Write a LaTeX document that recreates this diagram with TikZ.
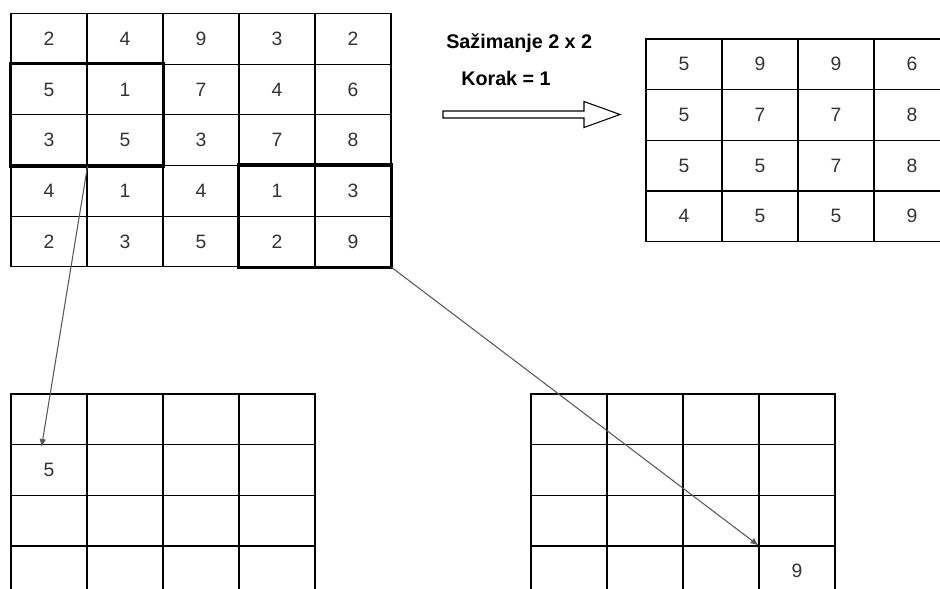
\documentclass[tikz,border=0pt]{standalone}
\usepackage{fontspec}
\setmainfont{Liberation Sans}
\usetikzlibrary{arrows.meta}

\tikzset{
  cell/.style={draw, line width=0.8pt, minimum width=57pt, minimum height=38pt, inner sep=0pt,
    font=\fontsize{14.5}{16}\selectfont, text=black!80},
  numtext/.style={inner sep=0pt, font=\fontsize{14.5}{16}\selectfont, text=black!80},
  title/.style={inner sep=0pt, font=\fontsize{14.8}{17}\selectfont\bfseries},
  boldbox/.style={line width=2.4pt},
  link/.style={-{Latex[length=6pt,width=5pt]}, draw=black!65, line width=0.8pt},
}

\begin{document}
\begin{tikzpicture}[x=0.75pt,y=0.75pt,yscale=-1,xscale=1]
\useasboundingbox (0,0) rectangle (940,589);
\clip (0,0) rectangle (940,589);

%Input matrix 5 x 5
\foreach \row [count=\rw from 0] in {{2,4,9,3,2},{5,1,7,4,6},{3,5,3,7,8},{4,1,4,1,3},{2,3,5,2,9}}
  \foreach \v [count=\col from 0] in \row
    \node[cell] (in-\rw-\col) at (49+76*\col, 38.8+50.67*\rw) {\v};

%Result matrix 4 x 4
\foreach \row [count=\rw from 0] in {{5,9,9,6},{5,7,7,8},{5,5,7,8},{4,5,5,9}}
  \foreach \v [count=\col from 0] in \row
    \node[cell] (out-\rw-\col) at (684+76*\col, 64.3+50.67*\rw) {\v};

%Empty matrices at the bottom
\foreach \rw in {0,...,3}
  \foreach \col in {0,...,3} {
    \node[cell] (pa-\rw-\col) at (49+76*\col, 419.3+50.67*\rw) {};
    \node[cell] (pb-\rw-\col) at (569+76*\col, 419.3+50.67*\rw) {};
  }

% Text Node
\node[numtext] (val5) at (pa-1-0) {5};
% Text Node
\node[numtext] (val9) at (pb-3-3) {9};

%Pooling windows
\draw[boldbox] (in-1-0.north west) rectangle (in-2-1.south east);
\draw[boldbox] (in-3-3.north west) rectangle (in-4-4.south east);

% Text Node
\node[title, anchor=west] (naslov) at (446,43) {Sažimanje 2 x 2};
% Text Node
\node[title, anchor=west] (korak) at (461,78) {Korak = 1};

%Shape: hollow arrow
\draw[line width=0.8pt, fill=white] (443,111) -- (584,111) -- (584,101.5) -- (620,114.5)
  -- (584,127.5) -- (584,118) -- (443,118) -- cycle;

%Straight Lines
\coordinate (tip5) at (41.5,447);
\draw[link] (in-2-0.south east) -- (tip5);
\draw[link] (in-4-4.south east) -- (pb-3-3.north west);

\end{tikzpicture}
\end{document}
